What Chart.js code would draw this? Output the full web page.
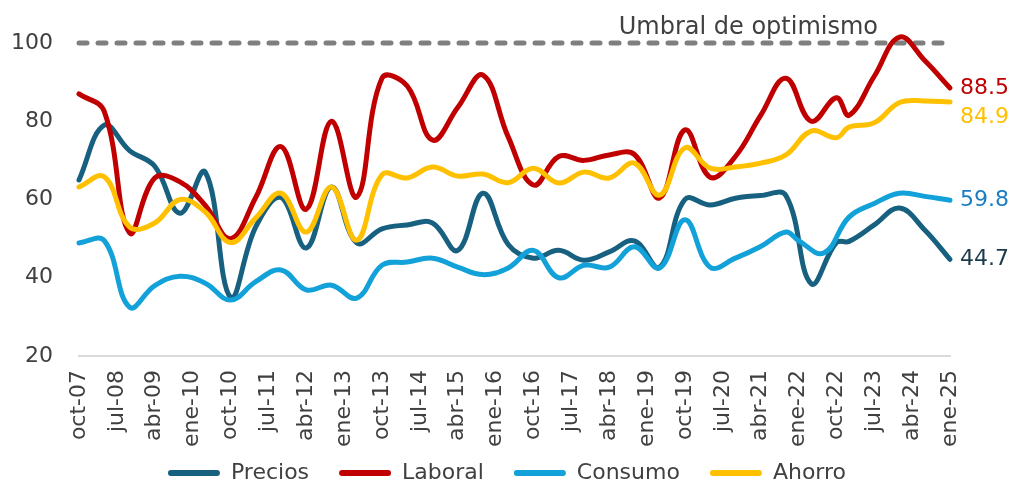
<!DOCTYPE html>
<html>
<head>
<meta charset="utf-8">
<script src="https://cdn.jsdelivr.net/npm/chart.js@4"></script>
<style>
  html, body { margin: 0; padding: 0; background: #fff; }
</style>
</head>
<body>
<canvas id="myChart" width="1014" height="485"></canvas>
<script>
// trimestres oct-07 ... ene-25 (eje de categorias)
const meses = ['oct', 'ene', 'abr', 'jul'];
let trimestres = [];
for (let i = 0; i < 70; i++) {
  let anio = 2007 + Math.floor((i + 3) / 4);
  trimestres.push(meses[i % 4] + '-' + String(anio).slice(2));
}

const umbral = 100;

const precios = [
  ['oct-07', 65], ['abr-08', 79], ['oct-08', 72.5], ['abr-09', 68.5], ['oct-09', 56.5],
  ['abr-10', 67], ['oct-10', 35], ['abr-11', 53], ['oct-11', 60.5], ['abr-12', 47.6],
  ['oct-12', 63.2], ['abr-13', 48.9], ['oct-13', 52.5], ['abr-14', 53.5], ['oct-14', 54],
  ['abr-15', 47], ['oct-15', 61.6], ['abr-16', 48.5], ['oct-16', 45], ['abr-17', 47],
  ['oct-17', 44.5], ['abr-18', 46.6], ['oct-18', 49.4], ['abr-19', 42.7], ['oct-19', 60],
  ['abr-20', 58.6], ['oct-20', 60.3], ['abr-21', 61], ['oct-21', 61], ['abr-22', 38.5],
  ['oct-22', 49], ['ene-23', 49.3], ['jul-23', 53.5], ['ene-24', 57.8], ['jul-24', 52.2],
  ['ene-25', 44.7]
];

const laboral = [
  ['oct-07', 87], ['abr-08', 82.5], ['oct-08', 51.5], ['abr-09', 65.5], ['oct-09', 64.5],
  ['abr-10', 58.5], ['oct-10', 50], ['abr-11', 60.5], ['oct-11', 73.5], ['abr-12', 57.5],
  ['oct-12', 80], ['abr-13', 60.6], ['oct-13', 91], ['abr-14', 89], ['oct-14', 75.2],
  ['abr-15', 83.5], ['oct-15', 91.8], ['abr-16', 76], ['oct-16', 63.7], ['abr-17', 71],
  ['oct-17', 70], ['abr-18', 71.4], ['oct-18', 71.5], ['abr-19', 60.4], ['oct-19', 77.8],
  ['abr-20', 65.7], ['oct-20', 71], ['abr-21', 81.5], ['oct-21', 91], ['abr-22', 80],
  ['oct-22', 86], ['ene-23', 81.5], ['jul-23', 91.5], ['ene-24', 101.5], ['jul-24', 95.5],
  ['ene-25', 88.5]
];

const consumo = [
  ['oct-07', 48.9], ['abr-08', 49.5], ['oct-08', 32.5], ['abr-09', 38], ['oct-09', 40.4],
  ['abr-10', 38.6], ['oct-10', 34.3], ['abr-11', 39], ['oct-11', 42], ['abr-12', 36.9],
  ['oct-12', 38.1], ['abr-13', 34.8], ['oct-13', 43.2], ['abr-14', 44], ['oct-14', 45],
  ['abr-15', 42.7], ['oct-15', 40.8], ['abr-16', 42.5], ['oct-16', 47], ['abr-17', 40],
  ['oct-17', 43.2], ['abr-18', 42.7], ['oct-18', 47.9], ['abr-19', 42.5], ['oct-19', 54.8],
  ['abr-20', 42.7], ['oct-20', 45], ['abr-21', 48], ['oct-21', 51.7], ['ene-22', 49.5],
  ['jul-22', 46.3], ['ene-23', 55.5], ['jul-23', 59], ['ene-24', 61.6], ['jul-24', 60.8],
  ['ene-25', 59.8]
];

const ahorro = [
  ['oct-07', 63.2], ['abr-08', 65.8], ['oct-08', 53], ['abr-09', 54], ['oct-09', 60],
  ['abr-10', 56.8], ['oct-10', 49], ['abr-11', 55.3], ['oct-11', 61.6], ['abr-12', 51.7],
  ['oct-12', 63.2], ['abr-13', 49.6], ['oct-13', 66.3], ['abr-14', 65.5], ['oct-14', 68.3],
  ['abr-15', 66], ['oct-15', 66.5], ['abr-16', 64.3], ['oct-16', 68], ['abr-17', 64.2],
  ['oct-17', 67], ['abr-18', 65.5], ['oct-18', 69.3], ['abr-19', 61.1], ['oct-19', 73.2],
  ['abr-20', 68], ['oct-20', 68.3], ['abr-21', 69.3], ['oct-21', 71.4], ['abr-22', 77.5],
  ['oct-22', 75.8], ['ene-23', 78.5], ['jul-23', 79.6], ['ene-24', 84.8], ['jul-24', 85.2],
  ['ene-25', 84.9]
];

const gris = '#404040';
Chart.defaults.font.family = 'DejaVu Sans';
Chart.defaults.color = gris;

const toPoints = (arr) => arr.map(([f, v]) => ({x: f, y: v}));

function serie(label, data, color, order) {
  return {
    label: label,
    data: toPoints(data),
    borderColor: color,
    backgroundColor: color,
    borderWidth: 5,
    pointRadius: 0,
    tension: 0.4,
    borderCapStyle: 'round',
    borderJoinStyle: 'round',
    clip: false,
    order: order,
  };
}

let datasets = [
  serie('Precios', precios, '#17607f', 4),
  serie('Laboral', laboral, '#c00000', 3),
  serie('Consumo', consumo, '#12a1d8', 2),
  serie('Ahorro', ahorro, '#ffc000', 1),
  {
    label: 'Umbral de optimismo',
    data: [{x: trimestres[0], y: umbral}, {x: trimestres[trimestres.length - 1], y: umbral}],
    borderColor: '#7f7f7f',
    borderWidth: 5,
    borderDash: [8, 11],
    borderCapStyle: 'round',
    pointRadius: 0,
    clip: false,
    order: 5,
  }
];

// valores finales a la derecha de cada linea
const finales = [
  {ds: 1, color: '#c00000', dy: 0},
  {ds: 3, color: '#ffc000', dy: 15},
  {ds: 2, color: '#1a7dc4', dy: 0},
  {ds: 0, color: '#1b3a4b', dy: 0},
];

const etiquetas = {
  id: 'etiquetas',
  afterLayout(chart) {
    // baja un poco la leyenda y deja sitio a las etiquetas giradas
    chart.legend.top += 9;
    chart.legend.bottom += 9;
    chart.scales.x.bottom = chart.height;
  },
  afterDatasetsDraw(chart) {
    const ctx = chart.ctx;
    ctx.save();
    ctx.font = '22px "DejaVu Sans"';
    ctx.textBaseline = 'middle';
    ctx.textAlign = 'left';
    finales.forEach((f) => {
      const pts = chart.getDatasetMeta(f.ds).data;
      const last = pts[pts.length - 1];
      const vals = chart.data.datasets[f.ds].data;
      ctx.fillStyle = f.color;
      ctx.fillText(vals[vals.length - 1].y.toFixed(1), last.x + 10, last.y + f.dy);
    });
    ctx.font = '24px "DejaVu Sans"';
    ctx.textAlign = 'right';
    ctx.textBaseline = 'alphabetic';
    ctx.fillStyle = gris;
    ctx.fillText('Umbral de optimismo', chart.chartArea.right - 72, chart.scales.y.getPixelForValue(umbral) - 9);
    ctx.restore();
  }
};

const ctx = document.getElementById('myChart');

new Chart(ctx, {
  type: 'line',
  data: {
    labels: trimestres,
    datasets: datasets,
  },
  plugins: [etiquetas],
  options: {
    responsive: false,
    animation: false,
    layout: {padding: {top: 43, left: 0, right: 0, bottom: 0}},
    scales: {
      x: {
        grid: {display: false, drawTicks: false},
        border: {display: true, color: '#d9d9d9', width: 2},
        ticks: {
          autoSkip: false,
          minRotation: 90,
          maxRotation: 90,
          padding: 14,
          font: {size: 22},
          callback: (val, idx) => idx % 3 === 0 ? trimestres[idx] : '',
        },
        afterFit: (s) => { s.height = 485 - 356 - s.chart.legend.height; },
      },
      y: {
        min: 20,
        max: 100,
        grid: {display: false, drawTicks: false},
        border: {display: false},
        ticks: {stepSize: 20, padding: 26, font: {size: 22}},
        afterFit: (s) => { s.width = 79; },
      },
      y2: {
        position: 'right',
        grid: {display: false, drawTicks: false},
        border: {display: false},
        ticks: {display: false},
        afterFit: (s) => { s.width = 64; },
      }
    },
    plugins: {
      tooltip: {enabled: false},
      legend: {
        position: 'bottom',
        labels: {
          boxWidth: 52,
          boxHeight: 6,
          padding: 30,
          font: {size: 22},
          color: gris,
          generateLabels: (chart) => Chart.defaults.plugins.legend.labels.generateLabels(chart)
            .filter((it) => it.datasetIndex < 4)
            .sort((a, b) => a.datasetIndex - b.datasetIndex)
            .map((it) => Object.assign(it, {lineWidth: 0, borderRadius: 3})),
        }
      }
    }
  },
});
</script>
</body>
</html>
